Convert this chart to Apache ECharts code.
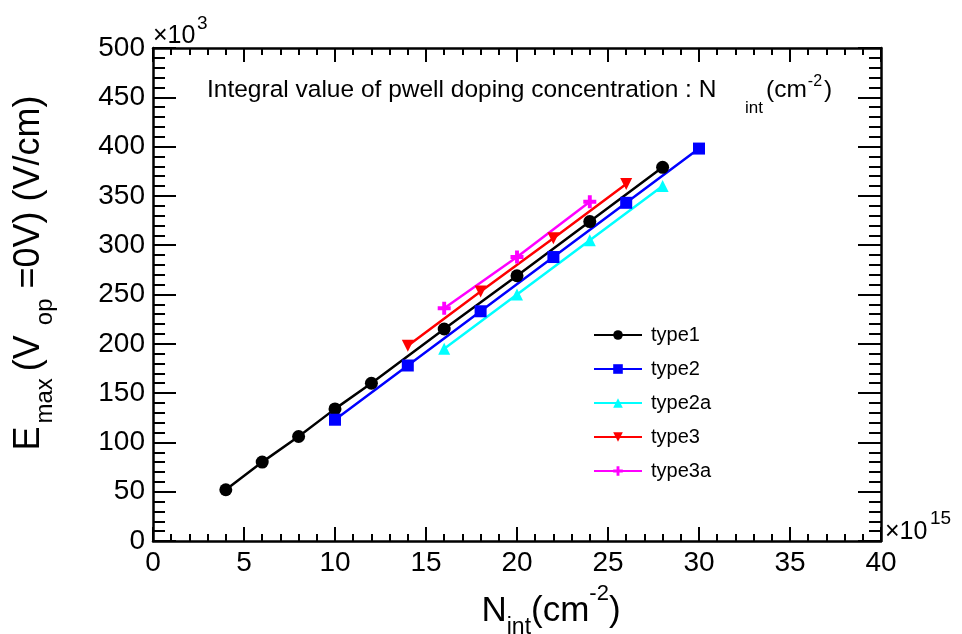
<!DOCTYPE html>
<html>
<head>
<meta charset="utf-8">
<script src="https://cdn.jsdelivr.net/npm/echarts@6/dist/echarts.min.js"></script>
<style>
html,body{margin:0;padding:0;background:#fff;}
#chart{width:962px;height:634px;}
</style>
</head>
<body>
<div id="chart"></div>
<script>
// ---- data (x in units of 1e15 cm^-2, y in units of 1e3 V/cm) ----
var seriesNames = ['type1', 'type2', 'type2a', 'type3', 'type3a'];
var type1X  = [4, 6, 8, 10, 12, 16, 20, 24, 28];
var type1Y  = [52, 80, 106, 134, 160, 215, 269, 324, 379];
var type2X  = [10, 14, 18, 22, 26, 30];
var type2Y  = [123, 178, 233, 288, 343, 398];
var type2aX = [16, 20, 24, 28];
var type2aY = [195, 250, 305, 360];
var type3X  = [14, 18, 22, 26];
var type3Y  = [198, 253, 307, 362];
var type3aX = [16, 20, 24];
var type3aY = [236, 288, 344];
var xTicks = {min: 0, max: 40, interval: 5};
var yTicks = {min: 0, max: 500, interval: 50};

function pairs(xs, ys) { return xs.map(function (x, i) { return [x, ys[i]]; }); }

var FONT = 'Liberation Sans, Arial, Helvetica, sans-serif';
var plusPath = 'path://M3.5,0H6.5V3.5H10V6.5H6.5V10H3.5V6.5H0V3.5H3.5Z';

var chart = echarts.init(document.getElementById('chart'), null, {renderer: 'canvas'});

function axisCommon(tickLen, minorLen, showLabel) {
  return {
    axisLine: {show: true, onZero: false, lineStyle: {color: '#000', width: 2.5}},
    axisTick: {show: true, inside: true, length: tickLen, lineStyle: {color: '#000', width: 2}},
    minorTick: {show: true, splitNumber: 5, length: minorLen, lineStyle: {color: '#000', width: 2}},
    splitLine: {show: false},
    minorSplitLine: {show: false},
    axisLabel: {show: showLabel, color: '#000', fontSize: 28, fontFamily: FONT, margin: 8}
  };
}

function mkSeries(name, xs, ys, color, symbol, size, rot) {
  return {
    name: name, type: 'line', data: pairs(xs, ys),
    symbol: symbol, symbolSize: size, symbolRotate: rot || 0,
    showAllSymbol: true,
    lineStyle: {color: color, width: 2.5},
    itemStyle: {color: color},
    emphasis: {disabled: true}
  };
}

function txt(x, y, s, size, align) {
  return {
    type: 'text', x: x, y: y, silent: true,
    style: {text: s, fontSize: size, fontFamily: FONT, fill: '#000', align: align || 'left', verticalAlign: 'middle'}
  };
}

var option = {
  animation: false,
  backgroundColor: '#fff',
  grid: {left: 153, right: 81, top: 48, bottom: 93, containLabel: false},
  xAxis: [
    Object.assign({type: 'value', position: 'bottom', min: xTicks.min, max: xTicks.max, interval: xTicks.interval}, axisCommon(14, 7, true)),
    Object.assign({type: 'value', position: 'top', min: xTicks.min, max: xTicks.max, interval: xTicks.interval}, axisCommon(14, 7, false))
  ],
  yAxis: [
    Object.assign({type: 'value', position: 'left', min: yTicks.min, max: yTicks.max, interval: yTicks.interval}, axisCommon(23, 12, true)),
    Object.assign({type: 'value', position: 'right', min: yTicks.min, max: yTicks.max, interval: yTicks.interval}, axisCommon(23, 12, false))
  ],
  legend: {
    show: true, orient: 'vertical', left: 593, top: 325, padding: 0,
    itemWidth: 48, itemHeight: 12, itemGap: 14,
    data: seriesNames,
    textStyle: {color: '#000', fontSize: 20, fontFamily: FONT, padding: [0, 0, 0, 4]},
    selectedMode: false
  },
  series: [
    mkSeries(seriesNames[0], type1X, type1Y, '#000000', 'circle', 13),
    mkSeries(seriesNames[1], type2X, type2Y, '#0000ff', 'rect', 12),
    mkSeries(seriesNames[2], type2aX, type2aY, '#00ffff', 'triangle', 12),
    mkSeries(seriesNames[3], type3X, type3Y, '#ff0000', 'triangle', 12, 180),
    mkSeries(seriesNames[4], type3aX, type3aY, '#ff00ff', plusPath, 13)
  ],
  graphic: [
    // x10^3 at top of y axis
    txt(153, 36, '×10', 25),
    txt(197, 24, '3', 19),
    // x10^15 at end of x axis
    txt(885, 532, '×10', 25),
    txt(930, 519, '15', 19),
    // annotation inside the frame
    txt(207, 90, 'Integral value of pwell doping concentration : N', 24.5),
    txt(745, 108, 'int', 17),
    {
      type: 'text', x: 766, y: 90, silent: true,
      style: {
        text: '{b|(cm}{s|-2}{b|)}', align: 'left', verticalAlign: 'middle',
        rich: {
          b: {fontSize: 24.5, fontFamily: FONT, fill: '#000', lineHeight: 40},
          s: {fontSize: 16, fontFamily: FONT, fill: '#000', lineHeight: 22, verticalAlign: 'top', padding: [4, 2, 0, 1]}
        }
      }
    },
    // x axis title
    {
      type: 'text', x: 551, y: 611, silent: true,
      style: {
        text: '{b|N}{sub|int}{b|(cm}{sup|-2}{b|)}', align: 'center', verticalAlign: 'middle',
        rich: {
          b: {fontSize: 35, fontFamily: FONT, fill: '#000', lineHeight: 56},
          sub: {fontSize: 23, fontFamily: FONT, fill: '#000', lineHeight: 16, verticalAlign: 'bottom'},
          sup: {fontSize: 22, fontFamily: FONT, fill: '#000', lineHeight: 44, verticalAlign: 'top'}
        }
      }
    },
    // y axis title
    {
      type: 'text', x: 29, y: 273, rotation: Math.PI / 2, silent: true,
      style: {
        text: '{b|E}{sub|max}{b|(V}{sub2|op}{b|=0V) (V/cm)}', align: 'center', verticalAlign: 'middle',
        rich: {
          b: {fontSize: 36, fontFamily: FONT, fill: '#000', lineHeight: 56},
          sub: {fontSize: 24, fontFamily: FONT, fill: '#000', lineHeight: 16, verticalAlign: 'bottom', padding: [0, 7, 0, 3]},
          sub2: {fontSize: 24, fontFamily: FONT, fill: '#000', lineHeight: 16, verticalAlign: 'bottom', padding: [0, 10, 0, 10]}
        }
      }
    }
  ]
};
chart.setOption(option);
</script>
</body>
</html>
